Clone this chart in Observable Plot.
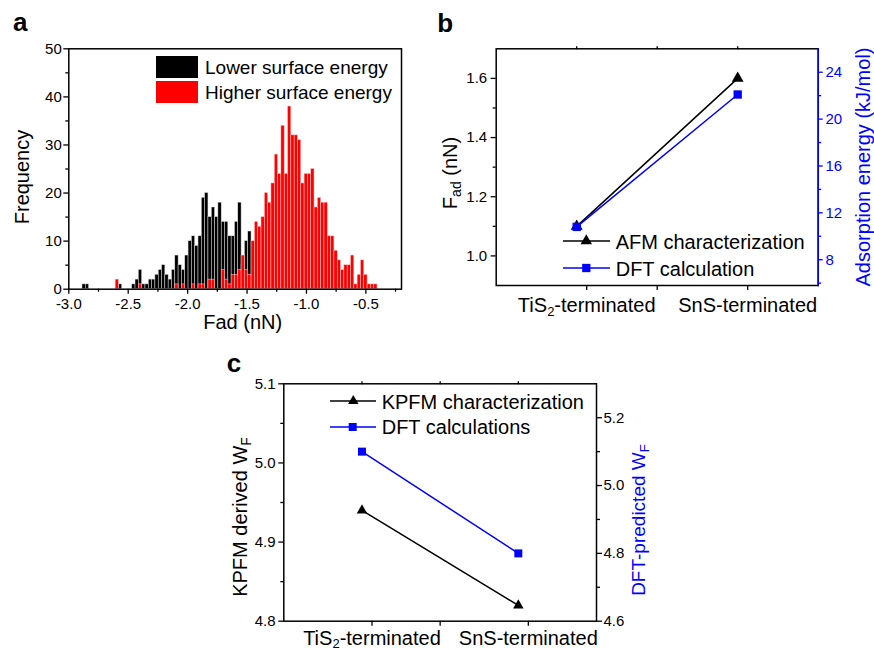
<!DOCTYPE html>
<html>
<head>
<meta charset="utf-8">
<script src="https://cdn.jsdelivr.net/npm/d3@7"></script>
<script src="https://cdn.jsdelivr.net/npm/@observablehq/plot@0.6"></script>
<style>
  html, body { margin: 0; padding: 0; background: #fff; }
  #fig { position: relative; width: 874px; height: 652px; overflow: hidden; background: #fff;
         font-family: Arial, "Liberation Sans", Helvetica, sans-serif; color: #000; }
  #fig > svg { position: absolute; }
  .t { position: absolute; white-space: nowrap; line-height: 1; }
  .sub { font-size: 70%; position: relative; top: 0.3em; }
</style>
</head>
<body>
<div id="fig"></div>
<script>
// ---------------- Panel a: adhesion-force histogram ----------------
const binCenter0 = -2.592;   // centre of bin #0 (nN)
const binWidth = 0.0279;     // bin width (nN)
const firstBin = -10;        // bin index of the first entry in the count arrays
const lowerSurfaceCounts = [
  1,1,0,0,0,0,0,0,0,0,
  0,1,0,0,0,1,2,4,1,1,
  2,2,3,4,5,3,2,4,7,5,
  4,7,10,11,9,11,19,20,15,17,
  15,18,14,14,11,11,14,18,5,10,
  12,0,0,0,0,0,0,0,0,0,
  0,0,0,0,0,0,0,0,0,0,
  0,0,0,0,0,0,0,0,0,0,
  0,0,0,0,0,0,0,0,0
];
const higherSurfaceCounts = [
  0,0,0,0,0,0,0,0,0,0,
  2,0,0,0,0,0,0,1,0,0,
  0,0,0,0,0,0,0,0,1,0,
  1,0,0,1,0,1,1,0,2,2,
  0,0,4,2,1,3,3,4,7,4,
  3,10,14,13,15,20,18,22,28,24,
  34,24,38,32,32,31,22,24,24,25,
  17,19,18,18,11,11,8,6,4,5,
  5,7,1,3,6,3,1,1,1
];
const fadMajorTicks = [-3.0, -2.5, -2.0, -1.5, -1.0, -0.5];
const fadMinorTicks = [-2.75, -2.25, -1.75, -1.25, -0.75, -0.25];
const freqMajorTicks = [0, 10, 20, 30, 40, 50];
const freqMinorTicks = [5, 15, 25, 35, 45];

// ---------------- Panels b and c ----------------
const terminations = ["TiS2-terminated", "SnS-terminated"];
const afmFad = [1.10, 1.60];            // nN (left axis, b)
const dftAdsorption = [10.8, 22.1];     // kJ/mol (right axis, b)
const fadTicks = [1.0, 1.2, 1.4, 1.6];
const fadMinor = [1.1, 1.3, 1.5];
const adsTicks = [8, 12, 16, 20, 24];
const adsMinor = [6, 10, 14, 18, 22];
const kpfmWF = [4.94, 4.82];            // left axis, c
const dftWF = [5.10, 4.80];             // right axis, c
const kpfmTicks = [4.8, 4.9, 5.0, 5.1];
const kpfmMinor = [4.85, 4.95, 5.05];
const dftWFTicks = [4.6, 4.8, 5.0, 5.2];
const dftWFMinor = [4.7, 4.9, 5.1];
const catTicks = [1, 2];
const catMinor = [1.5];

// ---------------- helpers ----------------
const FONT = 'Arial, "Liberation Sans", Helvetica, sans-serif';
const fig = document.getElementById("fig");
const baseStyle = {fontFamily: FONT, fontSize: "15px", background: "transparent", color: "black", overflow: "visible"};
function place(svg, left, top) { svg.style.left = left + "px"; svg.style.top = top + "px"; fig.appendChild(svg); return svg; }
function text(html, o) {
  const d = document.createElement("div");
  d.className = "t";
  d.innerHTML = html;
  const s = o.size || 20;
  d.style.fontSize = s + "px";
  d.style.color = o.color || "#000";
  if (o.bold) d.style.fontWeight = "bold";
  if (o.rotate) {
    d.style.left = (o.x - 0.3465 * s) + "px";
    d.style.top = o.y + "px";
    d.style.transform = "translate(-50%,-50%) rotate(-90deg)";
  } else {
    d.style.left = o.x + "px";
    d.style.top = (o.y - 0.8465 * s) + "px";
    if (o.anchor === "middle") d.style.transform = "translateX(-50%)";
  }
  fig.appendChild(d);
}
function swatchLine(x1, x2, y, color, symbol, mx, sz) {
  const ns = "http://www.w3.org/2000/svg";
  const svg = document.createElementNS(ns, "svg");
  svg.setAttribute("width", x2 - x1); svg.setAttribute("height", 20);
  svg.style.left = x1 + "px"; svg.style.top = (y - 10) + "px"; svg.style.position = "absolute";
  const l = document.createElementNS(ns, "line");
  l.setAttribute("x1", 0); l.setAttribute("x2", x2 - x1); l.setAttribute("y1", 10); l.setAttribute("y2", 10);
  l.setAttribute("stroke", color); l.setAttribute("stroke-width", 1.5);
  svg.appendChild(l);
  const cx = mx - x1, cy = 10;
  let m;
  if (symbol === "triangle") {
    m = document.createElementNS(ns, "polygon");
    const h = sz / Math.sqrt(3);
    m.setAttribute("points", `${cx},${cy - h} ${cx + sz / 2},${cy + h / 2} ${cx - sz / 2},${cy + h / 2}`);
  } else {
    m = document.createElementNS(ns, "rect");
    m.setAttribute("x", cx - sz / 2); m.setAttribute("y", cy - sz / 2);
    m.setAttribute("width", sz); m.setAttribute("height", sz);
  }
  m.setAttribute("fill", color);
  svg.appendChild(m);
  fig.appendChild(svg);
}
function subscriptTiS2(svg, drop) {
  const ns = "http://www.w3.org/2000/svg";
  svg.querySelectorAll("text").forEach(t => {
    if (t.textContent === "TiS2-terminated") {
      t.textContent = "";
      const a = document.createElementNS(ns, "tspan"); a.textContent = "TiS";
      const b = document.createElementNS(ns, "tspan"); b.textContent = "2";
      b.setAttribute("dy", String(drop)); b.setAttribute("font-size", "13");
      const c = document.createElementNS(ns, "tspan"); c.textContent = "-terminated";
      c.setAttribute("dy", String(-drop));
      t.append(a, b, c);
    }
  });
}
const noText = () => "";

// ---------------- Panel a ----------------
const histRows = counts => counts.map((c, k) => {
  const mid = binCenter0 + (k + firstBin) * binWidth;
  return {x1: mid - binWidth / 2, x2: mid + binWidth / 2, count: c};
}).filter(d => d.count > 0);

place(Plot.plot({
  width: 440, height: 330,
  marginLeft: 68.3, marginRight: 39, marginTop: 48.3, marginBottom: 41.3,
  style: baseStyle,
  x: {domain: [-3, -0.2]},
  y: {domain: [0, 50]},
  marks: [
    Plot.rectY(histRows(lowerSurfaceCounts), {x1: "x1", x2: "x2", y: "count", fill: "black", stroke: "#ddd", strokeWidth: 0.5}),
    Plot.rectY(histRows(higherSurfaceCounts), {x1: "x1", x2: "x2", y: "count", fill: "#ff0000", stroke: "#ffd0d0", strokeWidth: 0.5}),
    Plot.frame({stroke: "black", strokeWidth: 1.5}),
    Plot.axisX(fadMajorTicks, {tickSize: 5, tickPadding: 4.2, tickFormat: d => d.toFixed(1), fontSize: 15, strokeWidth: 1.3, label: null}),
    Plot.axisX(fadMinorTicks, {tickSize: 3, tickFormat: noText, strokeWidth: 1.3, label: null}),
    Plot.axisY(freqMajorTicks, {tickSize: 5, tickPadding: 2, fontSize: 15, strokeWidth: 1.3, label: null}),
    Plot.axisY(freqMinorTicks, {tickSize: 3, tickFormat: noText, strokeWidth: 1.3, label: null})
  ]
}), 0, 0);

text("a", {x: 13, y: 31.5, size: 26, bold: true});
text("Frequency", {x: 29.3, y: 176.7, size: 20, rotate: true});
text("Fad (nN)", {x: 242.7, y: 329.3, size: 20, anchor: "middle"});
(function legendA() {
  const mk = (top, color) => {
    const d = document.createElement("div");
    Object.assign(d.style, {position: "absolute", left: "156px", top: top + "px", width: "42.3px", height: "21.5px", background: color});
    fig.appendChild(d);
  };
  mk(56, "#000"); mk(81, "#ff0000");
})();
text("Lower surface energy", {x: 205, y: 74, size: 19});
text("Higher surface energy", {x: 205, y: 99.3, size: 19});

// ---------------- Panel b ----------------
const bMargins = {width: 444, height: 330, marginLeft: 65.7, marginRight: 56.3, marginTop: 48.3, marginBottom: 45};
const afmRows = terminations.map((t, i) => ({x: i + 1, y: afmFad[i]}));
const adsRows = terminations.map((t, i) => ({x: i + 1, y: dftAdsorption[i]}));

const bLeft = Plot.plot({
  ...bMargins, style: baseStyle,
  x: {domain: [0.5, 2.5]},
  y: {domain: [0.9, 1.7]},
  marks: [
    Plot.frame({stroke: "black", strokeWidth: 1.5}),
    Plot.line(afmRows, {x: "x", y: "y", stroke: "black", strokeWidth: 1.5}),
    Plot.dot(afmRows, {x: "x", y: "y", symbol: "triangle", r: 4.4, fill: "black"}),
    Plot.axisX(catTicks, {tickSize: 5, tickPadding: 7.7, dx: 10, tickFormat: d => terminations[d - 1], fontSize: 20, strokeWidth: 1.3, label: null}),
    Plot.axisX(catMinor, {tickSize: 5, tickFormat: noText, strokeWidth: 1.3, label: null}),
    Plot.axisX([1, 1.5, 2], {anchor: "top", tickSize: 3, tickFormat: noText, strokeWidth: 1.3, label: null}),
    Plot.axisY(fadTicks, {tickSize: 5, tickPadding: 4, tickFormat: d => d.toFixed(1), fontSize: 15, strokeWidth: 1.3, label: null}),
    Plot.axisY(fadMinor, {tickSize: 3, tickFormat: noText, strokeWidth: 1.3, label: null})
  ]
});
subscriptTiS2(bLeft, 3.5);
place(bLeft, 430, 0);

place(Plot.plot({
  ...bMargins, style: baseStyle,
  x: {domain: [0.5, 2.5], axis: null},
  y: {domain: [5.8, 26]},
  marks: [
    Plot.frame({anchor: "right", stroke: "blue", strokeWidth: 1.5}),
    Plot.line(adsRows, {x: "x", y: "y", stroke: "blue", strokeWidth: 1.5}),
    Plot.dot(adsRows, {x: "x", y: "y", symbol: "square", r: 4.7, fill: "blue"}),
    Plot.axisY(adsTicks, {anchor: "right", color: "blue", tickSize: 4, tickPadding: 3.3, fontSize: 15, strokeWidth: 1.3, label: null}),
    Plot.axisY(adsMinor, {anchor: "right", color: "blue", tickSize: 2.5, tickFormat: noText, strokeWidth: 1.3, label: null})
  ]
}), 430, 0);

text("b", {x: 437.3, y: 31.7, size: 26, bold: true});
text('F<span class="sub">ad</span> (nN)', {x: 457, y: 172.5, size: 20, rotate: true});
text("Adsorption energy (kJ/mol)", {x: 869.8, y: 166.7, size: 20, rotate: true, color: "blue"});
swatchLine(562.7, 610, 241, "black", "triangle", 586, 11.5);
swatchLine(562.7, 610, 267.7, "blue", "square", 586, 8.3);
text("AFM characterization", {x: 615.7, y: 249.3, size: 20});
text("DFT calculation", {x: 615.7, y: 275.7, size: 20});

// ---------------- Panel c ----------------
const cMargins = {width: 440, height: 332, marginLeft: 83.3, marginRight: 44, marginTop: 63.3, marginBottom: 31.3};
const kpfmRows = terminations.map((t, i) => ({x: i + 1, y: kpfmWF[i]}));
const dftWFRows = terminations.map((t, i) => ({x: i + 1, y: dftWF[i]}));

const cLeft = Plot.plot({
  ...cMargins, style: baseStyle,
  x: {domain: [0.5, 2.5]},
  y: {domain: [4.8, 5.1]},
  marks: [
    Plot.frame({stroke: "black", strokeWidth: 1.5}),
    Plot.line(kpfmRows, {x: "x", y: "y", stroke: "black", strokeWidth: 1.5}),
    Plot.dot(kpfmRows, {x: "x", y: "y", symbol: "triangle", r: 3.9, fill: "black"}),
    Plot.axisX(catTicks, {tickSize: 5, tickPadding: 5, dx: 10, tickFormat: d => terminations[d - 1], fontSize: 20, strokeWidth: 1.3, label: null}),
    Plot.axisX(catMinor, {tickSize: 5, tickFormat: noText, strokeWidth: 1.3, label: null}),
    Plot.axisX([1, 1.5, 2], {anchor: "top", tickSize: 3, tickFormat: noText, strokeWidth: 1.3, label: null}),
    Plot.axisY(kpfmTicks, {tickSize: 5, tickPadding: 3.3, tickFormat: d => d.toFixed(1), fontSize: 15, strokeWidth: 1.3, label: null}),
    Plot.axisY(kpfmMinor, {tickSize: 3, tickFormat: noText, strokeWidth: 1.3, label: null})
  ]
});
subscriptTiS2(cLeft, 2.5);
place(cLeft, 200, 320);

place(Plot.plot({
  ...cMargins, style: baseStyle,
  x: {domain: [0.5, 2.5], axis: null},
  y: {domain: [4.6, 5.3]},
  marks: [
    Plot.line(dftWFRows, {x: "x", y: "y", stroke: "blue", strokeWidth: 1.5}),
    Plot.dot(dftWFRows, {x: "x", y: "y", symbol: "square", r: 4.5, fill: "blue"}),
    Plot.axisY(dftWFTicks, {anchor: "right", tickSize: 5, tickPadding: 2, tickFormat: d => d.toFixed(1), fontSize: 15, strokeWidth: 1.3, label: null}),
    Plot.axisY(dftWFMinor, {anchor: "right", tickSize: 3, tickFormat: noText, strokeWidth: 1.3, label: null})
  ]
}), 200, 320);

text("c", {x: 226.7, y: 371.7, size: 26, bold: true});
text('KPFM derived W<span class="sub">F</span>', {x: 247, y: 516.7, size: 20, rotate: true});
text('DFT-predicted W<span class="sub">F</span>', {x: 644.3, y: 520, size: 19, rotate: true, color: "blue"});
swatchLine(330, 376, 401, "black", "triangle", 353.3, 10.5);
swatchLine(330, 376, 426.7, "blue", "square", 352.7, 8);
text("KPFM characterization", {x: 381.7, y: 409.3, size: 20});
text("DFT calculations", {x: 381.7, y: 434.3, size: 20});
</script>
</body>
</html>
